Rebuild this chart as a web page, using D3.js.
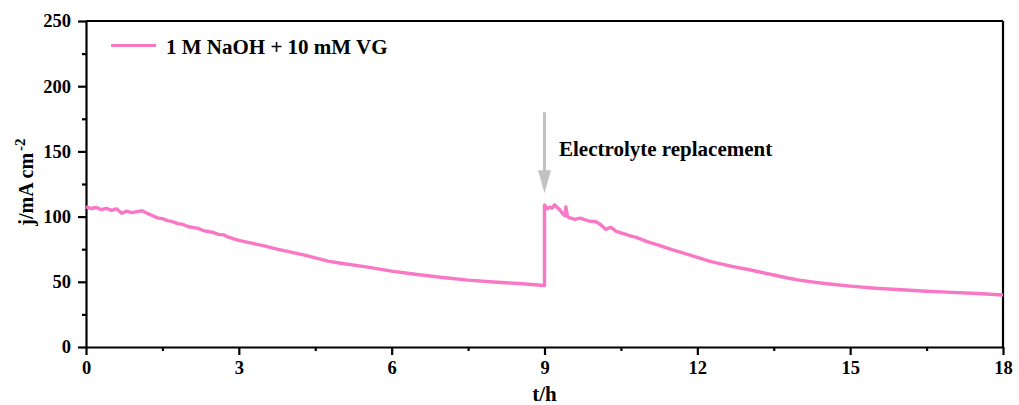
<!DOCTYPE html>
<html>
<head>
<meta charset="utf-8">
<script src="https://cdn.jsdelivr.net/npm/d3@7"></script>
<style>
  body { margin: 0; background: #fff; }
  text { font-family: "Liberation Serif", "Times New Roman", serif; font-weight: bold; fill: #000; }
</style>
</head>
<body>
<svg width="1019" height="405"></svg>
<script>
let width = 1019, height = 405;
let margin = { left: 86, right: 16, top: 21, bottom: 58 };

// time (h) and current density (mA cm-2)
let timeH = [0, 0.1, 0.2, 0.3, 0.4, 0.5, 0.6, 0.7, 0.8, 0.9, 1.0, 1.1, 1.2, 1.3, 1.4, 1.5, 1.6, 1.7, 1.8, 1.9,
    2.0, 2.1, 2.2, 2.3, 2.4, 2.5, 2.6, 2.7, 2.8, 2.9, 3.0, 3.25, 3.5, 3.75, 4.0, 4.25, 4.5, 4.75, 5.0, 5.5,
    6.0, 6.5, 7.0, 7.5, 8.0, 8.5, 9.0,
    9.0, 9.05, 9.1, 9.15, 9.2, 9.25, 9.3, 9.35, 9.4, 9.42, 9.45, 9.5, 9.6, 9.7, 9.8, 9.9, 10.0, 10.1, 10.2, 10.3,
    10.35, 10.4, 10.5, 10.6, 10.7, 10.8, 10.9, 11.0, 11.25, 11.5, 11.75, 12.0, 12.25, 12.5, 12.75, 13.0, 13.25, 13.5,
    13.75, 14.0, 14.25, 14.5, 15.0, 15.5, 16.0, 16.5, 17.0, 17.5, 18.0];
let currentJ = [107.5, 106.2, 107.0, 105.4, 106.3, 104.8, 106.0, 102.6, 104.2, 103.0, 103.8, 104.5, 102.5, 100.8, 99.0, 98.4, 96.9, 96.2, 94.6, 94.0,
    92.4, 91.6, 91.0, 89.3, 88.6, 87.8, 86.4, 86.0, 84.2, 83.0, 81.8, 79.6, 77.6, 75.0, 72.9, 70.8, 68.4, 65.8, 64.2, 61.4,
    58.2, 55.6, 53.3, 51.3, 49.8, 48.7, 47.2,
    109.0, 106.0, 107.2, 106.5, 109.0, 107.0, 105.2, 102.5, 100.6, 107.5, 100.0, 99.0, 97.8, 98.8, 97.5, 96.3, 96.2, 94.0, 90.2, 91.8,
    90.5, 88.9, 87.6, 86.4, 85.0, 84.0, 82.6, 81.0, 78.0, 74.6, 71.8, 68.8, 65.6, 63.4, 61.3, 59.4, 57.3, 55.2,
    53.1, 51.3, 49.9, 48.7, 46.7, 45.1, 43.9, 42.8, 41.9, 41.0, 39.9];

let xTicks = [0, 3, 6, 9, 12, 15, 18];
let yTicks = [0, 50, 100, 150, 200, 250];
let seriesName = "1 M NaOH + 10 mM VG";
let noteText = "Electrolyte replacement";
let arrowAt = { t: 9, from: 180, to: 118 };

let pink = "#f878c6";

let svg = d3.select("svg");

let x = d3.scaleLinear().domain([0, 18]).range([margin.left, width - margin.right]);
let y = d3.scaleLinear().domain([0, 250]).range([height - margin.bottom, margin.top]);

// frame (top and right)
svg.append("line")
    .attr("x1", x(0)).attr("x2", x(18)).attr("y1", y(250)).attr("y2", y(250))
    .attr("stroke", "#000").attr("stroke-width", 2.2);
svg.append("line")
    .attr("x1", x(18)).attr("x2", x(18)).attr("y1", y(0)).attr("y2", y(250))
    .attr("stroke", "#000").attr("stroke-width", 2.2);

// bottom axis
let xAxis = svg.append("g")
    .attr("transform", "translate(0," + y(0) + ")")
    .call(d3.axisBottom(x).tickValues(xTicks).tickSize(8).tickPadding(6).tickSizeOuter(0));
svg.append("g")
    .attr("transform", "translate(0," + y(0) + ")")
    .call(d3.axisBottom(x).tickValues(d3.range(1.5, 18, 3)).tickSize(4).tickFormat("").tickSizeOuter(0))
    .select(".domain").remove();

// left axis
let yAxis = svg.append("g")
    .attr("transform", "translate(" + x(0) + ",0)")
    .call(d3.axisLeft(y).tickValues(yTicks).tickSize(8).tickPadding(7).tickSizeOuter(0));
svg.append("g")
    .attr("transform", "translate(" + x(0) + ",0)")
    .call(d3.axisLeft(y).tickValues(d3.range(25, 250, 50)).tickSize(4).tickFormat("").tickSizeOuter(0))
    .select(".domain").remove();

svg.selectAll(".domain").attr("stroke", "#000").attr("stroke-width", 2.2);
svg.selectAll(".tick line").attr("stroke", "#000").attr("stroke-width", 2.2);
svg.selectAll(".tick text")
    .style("font-family", "'Liberation Serif', 'Times New Roman', serif")
    .style("font-weight", "bold")
    .style("font-size", "18.5px")
    .attr("fill", "#000");

// axis titles
svg.append("text")
    .attr("x", x(9)).attr("y", 401)
    .attr("text-anchor", "middle")
    .style("font-size", "21px")
    .text("t/h");

let yt = svg.append("text")
    .attr("transform", "translate(33," + 182 + ") rotate(-90)")
    .attr("text-anchor", "middle")
    .style("font-size", "20px");
yt.append("tspan").text("j/mA cm");
yt.append("tspan").attr("dx", 2).attr("dy", -8).style("font-size", "15px").text("-2");

// data line
let pts = timeH.map((t, i) => [t, currentJ[i]]);
let line = d3.line().x(d => x(d[0])).y(d => y(d[1]));
svg.append("path")
    .datum(pts)
    .attr("fill", "none")
    .attr("stroke", pink)
    .attr("stroke-width", 3.4)
    .attr("stroke-linejoin", "round")
    .attr("d", line);

// legend
svg.append("line")
    .attr("x1", 111).attr("x2", 156).attr("y1", 45.5).attr("y2", 45.5)
    .attr("stroke", pink).attr("stroke-width", 3);
svg.append("text")
    .attr("x", 166).attr("y", 54)
    .style("font-size", "21px")
    .text(seriesName);

// annotation arrow
let ax = x(arrowAt.t), headLen = 23;
svg.append("line")
    .attr("x1", ax).attr("x2", ax)
    .attr("y1", y(arrowAt.from)).attr("y2", y(arrowAt.to) - headLen + 1)
    .attr("stroke", "#c2c2c2").attr("stroke-width", 3);
svg.append("path")
    .attr("d", "M" + (ax - 6.5) + "," + (y(arrowAt.to) - headLen) +
        "L" + (ax + 6.5) + "," + (y(arrowAt.to) - headLen) +
        "L" + ax + "," + y(arrowAt.to) + "Z")
    .attr("fill", "#c2c2c2");
svg.append("text")
    .attr("x", 559).attr("y", 156)
    .style("font-size", "21px")
    .text(noteText);
</script>
</body>
</html>
